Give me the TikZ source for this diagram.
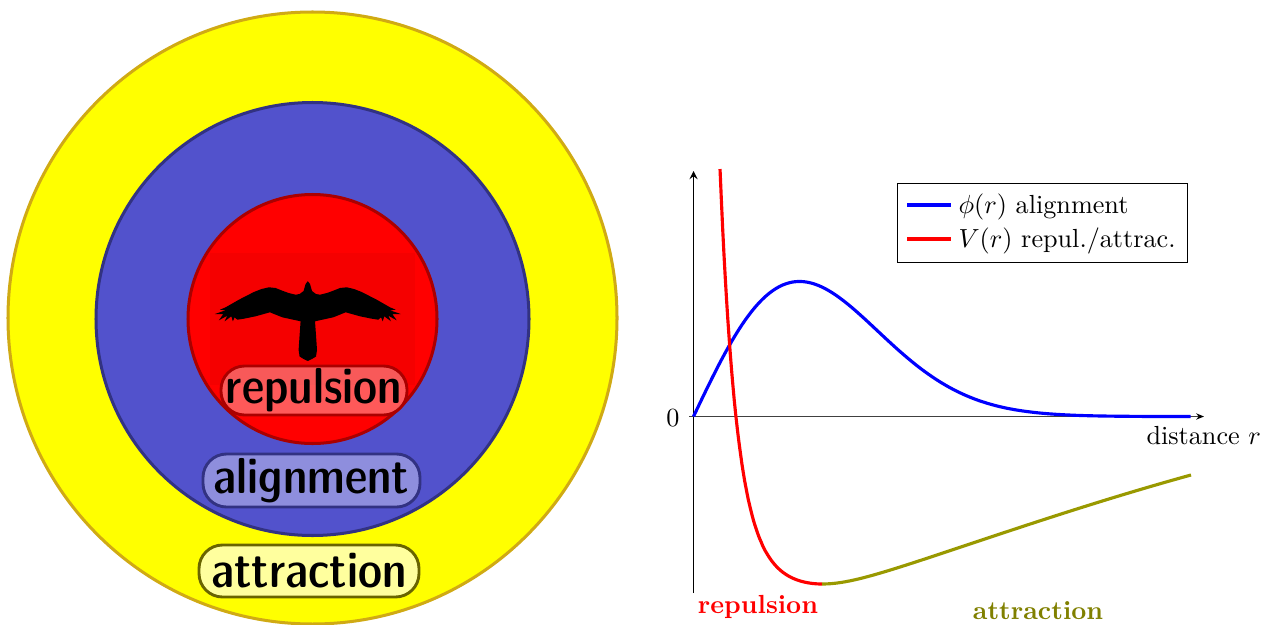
\documentclass[tikz,border=0pt]{standalone}
\usepackage{fontspec}
\usetikzlibrary{arrows.meta}
\definecolor{ringY}{RGB}{255,255,0}
\definecolor{ringYd}{RGB}{208,170,20}
\definecolor{ringB}{RGB}{82,82,204}
\definecolor{ringBd}{RGB}{50,50,130}
\definecolor{ringR}{RGB}{255,0,0}
\definecolor{ringRd}{RGB}{170,0,0}
\definecolor{imgR}{RGB}{245,0,0}
\definecolor{curveO}{RGB}{153,153,0}
\definecolor{labelO}{RGB}{128,128,0}
\definecolor{pillYd}{RGB}{105,100,0}
\def\px{0.382pt}
\tikzset{
  x=0.382pt,y=-0.382pt,
  ring/.style={line width=1.15pt},
  pill/.style={draw,line width=1.1pt,fill=white,fill opacity=.35,draw opacity=1,text opacity=1,rounded corners=9pt,
    inner sep=0pt,font=\sffamily\fontseries{sbc}\selectfont\fontsize{19.3}{20}\selectfont},
  curve/.style={line width=1.2pt,line join=round},
  axis/.style={line width=.4pt,-stealth},
  legtext/.style={anchor=west,inner sep=0pt},
}
\begin{document}
\begin{tikzpicture}
\clip (0,0) rectangle (1267,624);
\useasboundingbox (0,0) rectangle (1267,624);
% rings
\draw[ring,draw=ringYd,fill=ringY] (312.5,318) ellipse [x radius=304.5,y radius=306];
\draw[ring,draw=ringBd,fill=ringB] (312.5,319) circle [radius=216.5];
\draw[ring,draw=ringRd,fill=ringR] (312.5,319) circle [radius=124.5];
% image background
\fill[imgR] (210,253) rectangle (415,385);
% bird
\fill[black,line join=round] (307.8,281.2) -- (310,284) -- (312,291) -- (316,294) -- (320,294.7) -- (327,293) -- (333.3,290.7) -- (340,288) -- (346.7,287.3) -- (354,289) -- (361.7,292) -- (376.7,299.7) -- (390,307.3)
 -- (395.7,309.7) -- (390,310.3) -- (400.7,314) -- (392.3,314) -- (396.7,320.3) -- (388.3,315.7) -- (391,321.3) -- (384.3,316.3) -- (382.7,321.3) -- (381,317.3) -- (378.3,319.7)
 -- (371.7,318.7) -- (360,316.3) -- (345.7,312.3) -- (333.3,317.3) -- (315,321.3) -- (316,335) -- (317,350) -- (316,356.5) -- (312,359) -- (307.8,361)
 -- (303.6,359) -- (299.6,356.5) -- (298.6,350) -- (299.6,335) -- (300.6,321.3) -- (282.3,317.3) -- (269.9,312.3) -- (255.6,316.3) -- (243.9,318.7) -- (237.3,319.7)
 -- (234.6,317.3) -- (232.9,321.3) -- (231.3,316.3) -- (224.6,321.3) -- (227.3,315.7) -- (218.9,320.3) -- (223.3,314) -- (214.9,314) -- (225.6,310.3) -- (219.9,309.7)
 -- (225.6,307.3) -- (238.9,299.7) -- (253.9,292) -- (261.6,289) -- (268.9,287.3) -- (275.6,288) -- (282.3,290.7) -- (288.6,293) -- (295.6,294.7) -- (299.6,294) -- (303.6,291) -- (305.6,284) -- cycle;
% pills
\node[pill,draw=ringRd,minimum width=186*\px,minimum height=49*\px] (repulsionPill) at (314,390.5) {repulsion};
\node[pill,draw=ringBd,minimum width=217*\px,minimum height=53*\px] (alignmentPill) at (311.5,480.5) {alignment};
\node[pill,draw=pillYd,fill opacity=.62,minimum width=220*\px,minimum height=52*\px] (attractionPill) at (309,571) {attraction};
% axes
\coordinate (yStart) at (693.5,593);
\coordinate (yEnd) at (693.5,171);
\coordinate (xStart) at (689,416.5);
\coordinate (xEnd) at (1204,416.5);
\draw[axis] (yStart) -- (yEnd);
\draw[draw=black!75,line width=.55pt,-{Stealth[black,length=3pt,width=2.4pt]}] (xStart) -- (xEnd);
% curves
\draw[curve,blue,domain=0:4.69,samples=140,smooth,variable=\u] plot ({693.5+106*\u},{416.5-222.6*\u*exp(-\u*\u/2)});
\draw[curve,red,domain=0:1.02,samples=80,variable=\u] plot ({822-100*\u},{584-10000*\u*\u*exp(-5.103-0.188*\u+1.995*\u*\u)});
\draw[curve,curveO,domain=0:3.69,samples=80,variable=\u] plot ({822+100*\u},{584-14.5*(sqrt(1+6.157*\u*\u)-1)+0.2*\u*\u*\u});
% axis labels
\node[inner sep=0pt] (zeroLabel) at (673,418) {$0$};
\node[inner sep=0pt,anchor=base west] (distLabel) at (1146,444) {distance $r$};
\node[inner sep=0pt,text=ringR,font=\bfseries] (repLabel) at (758,606.5) {repulsion};
\node[inner sep=0pt,text=labelO,font=\bfseries] (attLabel) at (1038,611) {attraction};
% legend
\node[draw,line width=.4pt,minimum width=290*\px,minimum height=79*\px,inner sep=0pt,anchor=north west] (legendBox) at (897.2,183) {};
\coordinate (legA1) at (907,205);
\coordinate (legA2) at (951,205);
\coordinate (legB1) at (907,239);
\coordinate (legB2) at (951,239);
\draw[curve,blue] (legA1) -- (legA2);
\draw[curve,red] (legB1) -- (legB2);
\node[legtext,anchor=base west] (legTextA) at (958,213) {$\phi(r)$ alignment};
\node[legtext,anchor=base west] (legTextB) at (958,247) {$V(r)$ repul./attrac.};
\end{tikzpicture}
\end{document}
